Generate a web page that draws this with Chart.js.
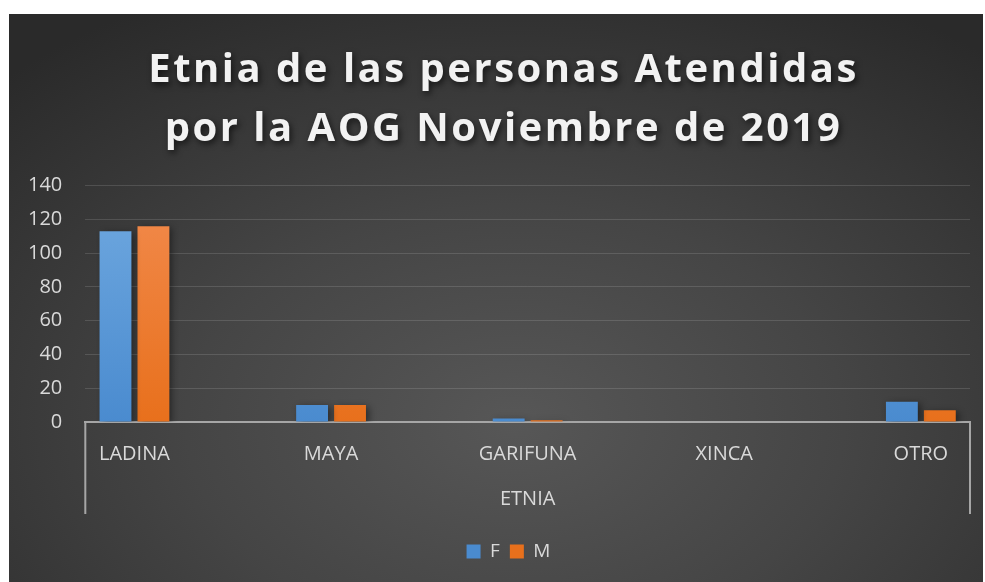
<!DOCTYPE html>
<html>
<head>
<meta charset="utf-8">
<script src="https://cdn.jsdelivr.net/npm/chart.js@4.4.1/dist/chart.umd.min.js"></script>
<style>
    html, body { margin: 0; padding: 0; background: #ffffff; }
    #wrap {
        position: absolute; left: 9px; top: 14px; width: 974px; height: 568px;
        background: radial-gradient(ellipse 75% 85% at 52% 72%, #575757 0%, #454545 45%, #2a2a2a 100%);
    }
</style>
</head>
<body>
<div id="wrap"><canvas id="etniaChart" width="974" height="568"></canvas></div>
<script>
// Data
const categories = ["LADINA", "MAYA", "GARIFUNA", "XINCA", "OTRO"];
const femaleValues = [113, 10, 2, 0, 12];
const maleValues = [116, 10, 1, 0, 7];
const yTicks = [0, 20, 40, 60, 80, 100, 120, 140];
const axisTitle = "ETNIA";
const chartTitle = ["Etnia de las personas Atendidas", "por la AOG Noviembre de 2019"];

// vertical gradient for a bar fill
function barGradient(ctx, top, bottom) {
    const chart = ctx.chart;
    const area = chart.chartArea;
    if (!area) return bottom;
    const g = chart.ctx.createLinearGradient(0, area.top, 0, area.bottom);
    g.addColorStop(0, top);
    g.addColorStop(1, bottom);
    return g;
}

// shift a layout box sideways, optionally with spacing and shadow
function wrapBox(chart, box, dx, style) {
    if (!box || box._wrapped) return;
    const orig = box.draw.bind(box);
    box.draw = function () {
        const c = chart.ctx;
        c.save();
        c.translate(dx, 0);
        Object.assign(c, style);
        orig();
        c.restore();
    };
    box._wrapped = true;
}

const boxStyle = {
    id: 'boxStyle',
    afterLayout(chart) {
        // title sits a bit right of the canvas centre, with wide letters and a shadow
        wrapBox(chart, chart.titleBlock, 16, {
            letterSpacing: '2.5px',
            shadowColor: 'rgba(0,0,0,0.6)',
            shadowBlur: 6,
            shadowOffsetX: 2,
            shadowOffsetY: 3
        });
        wrapBox(chart, chart.legend, 21, {});
    }
};

// shadow under the bars
const barShadow = {
    id: 'barShadow',
    beforeDatasetsDraw(chart) {
        const c = chart.ctx;
        c.save();
        c.shadowColor = 'rgba(0,0,0,0.45)';
        c.shadowBlur = 7;
        c.shadowOffsetX = 3;
        c.shadowOffsetY = 2;
    },
    afterDatasetsDraw(chart) {
        chart.ctx.restore();
    }
};

// outer brackets of the multi level category axis
const categoryBracket = {
    id: 'categoryBracket',
    afterDraw(chart) {
        const c = chart.ctx;
        const x = chart.scales.x;
        const area = chart.chartArea;
        const bottom = x.bottom - 18;
        c.save();
        c.strokeStyle = '#a6a6a6';
        c.lineWidth = 2;
        c.beginPath();
        c.moveTo(area.left, area.bottom);
        c.lineTo(area.left, bottom);
        c.moveTo(area.right, area.bottom);
        c.lineTo(area.right, bottom);
        c.stroke();
        c.restore();
    }
};

const ctx = document.getElementById('etniaChart').getContext('2d');
new Chart(ctx, {
    type: 'bar',
    data: {
        datasets: [
            {
                label: "F",
                data: femaleValues.map((v, i) => ({ x: i, y: v })),
                backgroundColor: (c) => barGradient(c, '#70a9e0', '#4a8bcf'),
                borderWidth: 0
            },
            {
                label: "M",
                data: maleValues.map((v, i) => ({ x: i, y: v })),
                backgroundColor: (c) => barGradient(c, '#f28b4e', '#e8701c'),
                borderWidth: 0
            }
        ]
    },
    options: {
        responsive: false,
        animation: false,
        devicePixelRatio: 1,
        datasets: {
            bar: { categoryPercentage: 0.386, barPercentage: 0.84 }
        },
        layout: { padding: { left: -4, right: 13, top: 27, bottom: 11 } },
        scales: {
            x: {
                type: 'linear',
                offset: false,
                min: -0.25,
                max: categories.length - 0.75,
                afterBuildTicks(scale) {
                    scale.ticks = categories.map((c, i) => ({ value: i }));
                },
                grid: { display: false, drawTicks: false, offset: false },
                border: { display: true, color: '#a6a6a6', width: 2 },
                ticks: {
                    color: '#d9d9d9',
                    font: { family: 'Open Sans', size: 20 },
                    padding: 20,
                    maxRotation: 0,
                    callback: (v) => categories[v]
                },
                title: {
                    display: true,
                    text: axisTitle,
                    color: '#d9d9d9',
                    font: { family: 'Open Sans', size: 20 },
                    padding: { top: 1, bottom: 21 }
                }
            },
            y: {
                min: 0,
                max: 140,
                afterBuildTicks(scale) {
                    scale.ticks = yTicks.map(v => ({ value: v }));
                },
                grid: { color: 'rgba(255,255,255,0.13)', lineWidth: 1, drawTicks: false },
                border: { display: false },
                ticks: {
                    color: '#d9d9d9',
                    font: { family: 'Open Sans', size: 20 },
                    padding: 23
                }
            }
        },
        plugins: {
            title: {
                display: true,
                text: chartTitle,
                color: '#f2f2f2',
                font: { family: 'Open Sans', size: 40, weight: 'bold', lineHeight: 1.47 },
                padding: { top: 0, bottom: 27 }
            },
            legend: {
                position: 'bottom',
                labels: {
                    color: '#d9d9d9',
                    font: { family: 'Open Sans', size: 19 },
                    boxWidth: 14,
                    boxHeight: 14,
                    padding: 10
                }
            },
            tooltip: { enabled: false }
        }
    },
    plugins: [boxStyle, barShadow, categoryBracket]
});
</script>
</body>
</html>
